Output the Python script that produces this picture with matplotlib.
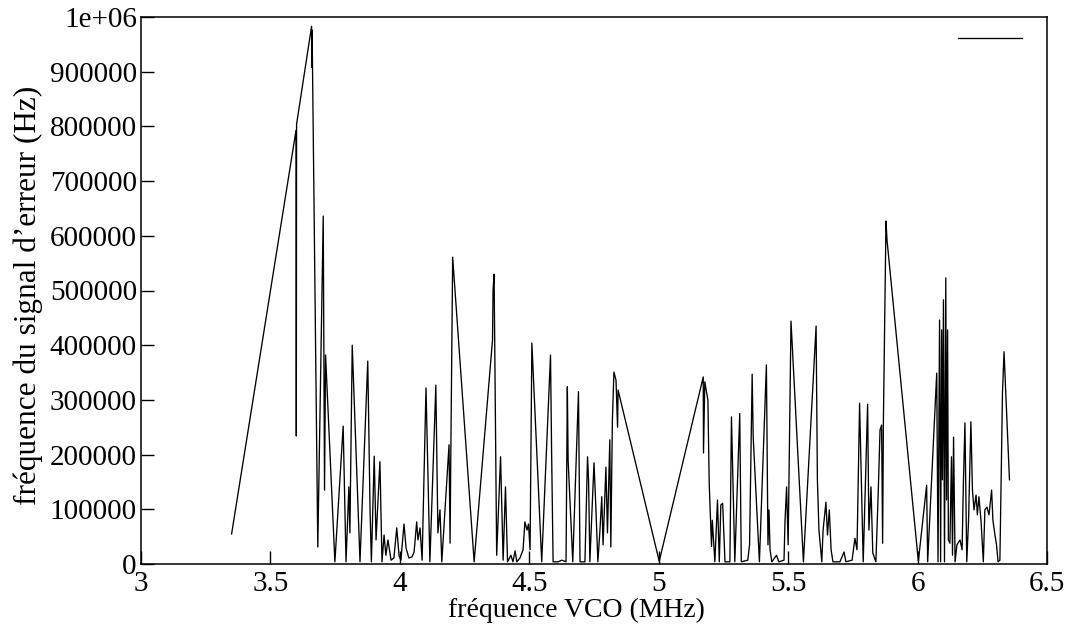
import matplotlib
matplotlib.use("Agg")
import matplotlib.pyplot as plt
from matplotlib.lines import Line2D

# VCO frequency (MHz) and error-signal frequency (Hz)
vco_mhz = [
    3.350, 3.599, 3.600, 3.601, 3.659, 3.660, 3.661, 3.683, 3.704, 3.709,
    3.713, 3.749, 3.781, 3.792, 3.803, 3.807, 3.816, 3.846, 3.876, 3.885,
    3.890, 3.901, 3.908, 3.923, 3.931, 3.939, 3.946, 3.954, 3.966, 3.977,
    3.988, 3.997, 4.004, 4.016, 4.024, 4.035, 4.047, 4.055, 4.065, 4.070,
    4.078, 4.086, 4.101, 4.116, 4.139, 4.147, 4.155, 4.162, 4.190, 4.194,
    4.197, 4.204, 4.287, 4.358, 4.360, 4.364, 4.374, 4.389, 4.399, 4.408,
    4.416, 4.429, 4.437, 4.445, 4.452, 4.464, 4.476, 4.483, 4.491, 4.497,
    4.503, 4.510, 4.548, 4.582, 4.586, 4.592, 4.611, 4.626, 4.642, 4.647,
    4.650, 4.668, 4.690, 4.696, 4.715, 4.725, 4.729, 4.734, 4.750, 4.756,
    4.765, 4.773, 4.780, 4.785, 4.796, 4.802, 4.811, 4.815, 4.821, 4.827,
    4.835, 4.841, 4.843, 5.002, 5.172, 5.173, 5.178, 5.190, 5.195, 5.204,
    5.207, 5.217, 5.227, 5.234, 5.240, 5.247, 5.256, 5.275, 5.281, 5.294,
    5.313, 5.319, 5.344, 5.351, 5.361, 5.365, 5.389, 5.416, 5.422, 5.426,
    5.430, 5.437, 5.455, 5.464, 5.484, 5.488, 5.494, 5.500, 5.511, 5.559,
    5.608, 5.613, 5.619, 5.630, 5.635, 5.646, 5.652, 5.659, 5.666, 5.673,
    5.700, 5.716, 5.723, 5.747, 5.758, 5.766, 5.776, 5.790, 5.807, 5.812,
    5.820, 5.827, 5.839, 5.848, 5.855, 5.861, 5.865, 5.868, 5.878, 5.882,
    6.003, 6.035, 6.039, 6.074, 6.079, 6.085, 6.089, 6.093, 6.096, 6.100,
    6.104, 6.109, 6.112, 6.116, 6.119, 6.125, 6.131, 6.135, 6.139, 6.145,
    6.152, 6.164, 6.172, 6.177, 6.183, 6.190, 6.197, 6.206, 6.212, 6.218,
    6.226, 6.231, 6.237, 6.245, 6.254, 6.260, 6.268, 6.276, 6.286, 6.291,
    6.299, 6.305, 6.311, 6.318, 6.328, 6.334, 6.355,
]
erreur_hz = [
    55000, 793000, 234000, 804000, 983000, 908000, 976000, 31000, 636000, 135000,
    382000, 4000, 252000, 4000, 141000, 57000, 400000, 4000, 371000, 95000,
    4000, 197000, 44000, 187000, 4000, 53000, 16000, 44000, 7000, 11000,
    66000, 15000, 7000, 73000, 29000, 11000, 13000, 22000, 77000, 44000,
    66000, 7000, 322000, 4000, 327000, 57000, 99000, 4000, 218000, 38000,
    208000, 561000, 4000, 410000, 500000, 530000, 16000, 196000, 7000, 141000,
    4000, 16000, 4000, 24000, 4000, 11000, 26000, 77000, 62000, 73000,
    26000, 404000, 4000, 382000, 214000, 4000, 4000, 7000, 4000, 324000,
    190000, 4000, 315000, 4000, 4000, 196000, 154000, 4000, 185000, 117000,
    4000, 62000, 123000, 35000, 177000, 57000, 227000, 31000, 263000, 351000,
    336000, 250000, 318000, 5000, 342000, 203000, 333000, 300000, 148000, 32000,
    80000, 4000, 117000, 4000, 108000, 111000, 4000, 4000, 269000, 4000,
    275000, 4000, 7000, 35000, 347000, 232000, 4000, 364000, 35000, 99000,
    26000, 4000, 16000, 4000, 7000, 80000, 141000, 35000, 444000, 4000,
    435000, 154000, 62000, 4000, 62000, 113000, 53000, 99000, 26000, 4000,
    4000, 22000, 4000, 7000, 47000, 26000, 294000, 4000, 292000, 62000,
    141000, 20000, 4000, 130000, 245000, 254000, 38000, 263000, 627000, 592000,
    5000, 144000, 4000, 349000, 4000, 446000, 4000, 428000, 154000, 483000,
    4000, 523000, 117000, 428000, 44000, 38000, 196000, 16000, 232000, 4000,
    35000, 44000, 26000, 148000, 258000, 4000, 80000, 260000, 135000, 99000,
    126000, 90000, 123000, 80000, 4000, 99000, 104000, 90000, 135000, 80000,
    53000, 35000, 4000, 7000, 313000, 388000, 154000,
]

x_ticks = [3, 3.5, 4, 4.5, 5, 5.5, 6, 6.5]
x_tick_labels = ["3", "3.5", "4", "4.5", "5", "5.5", "6", "6.5"]
y_ticks = [0, 100000, 200000, 300000, 400000, 500000, 600000, 700000, 800000, 900000, 1000000]
y_tick_labels = ["0", "100000", "200000", "300000", "400000", "500000", "600000",
                 "700000", "800000", "900000", "1e+06"]

plt.rcParams["font.family"] = ["Liberation Serif", "DejaVu Serif"]
TICK_FS = 21
XLAB_FS = 20
YLAB_FS = 22.5

fig = plt.figure(figsize=(10.72, 6.28), dpi=100)
ax = fig.add_axes([141 / 1072, 1 - 564 / 628, 906 / 1072, 547 / 628])

ax.plot(vco_mhz, erreur_hz, color="black", linewidth=0.95)

ax.set_xlim(3, 6.5)
ax.set_ylim(0, 1000000)
ax.set_xticks(x_ticks)
ax.set_xticklabels(x_tick_labels)
ax.set_yticks(y_ticks)
ax.set_yticklabels(y_tick_labels)
ax.tick_params(axis="both", direction="in", length=9.5, width=1.0,
               labelsize=TICK_FS, top=False, right=False, colors="black")
ax.tick_params(axis="x", pad=5)
ax.tick_params(axis="y", pad=3)
for s in ax.spines.values():
    s.set_linewidth(1.1)
    s.set_color("black")

ax.set_xlabel("fréquence VCO (MHz)", fontsize=XLAB_FS)
ax.xaxis.set_label_coords(0.481, -0.0855)
ax.xaxis.label.set_va("center")
ax.set_ylabel("fréquence du signal d\u2019erreur (Hz)", fontsize=YLAB_FS)
ax.yaxis.set_label_coords(-0.124, 0.492)
ax.yaxis.label.set_va("center")

key = Line2D([], [], color="black", linewidth=0.95)
ax.legend([key], [""], loc="center right", frameon=False,
          handlelength=46 / TICK_FS, handletextpad=0.0, borderpad=0.0,
          borderaxespad=0.0, fontsize=TICK_FS,
          bbox_to_anchor=(1022 / 1072, 1 - 41 / 628),
          bbox_transform=fig.transFigure)

fig.savefig("out.png", dpi=100)
